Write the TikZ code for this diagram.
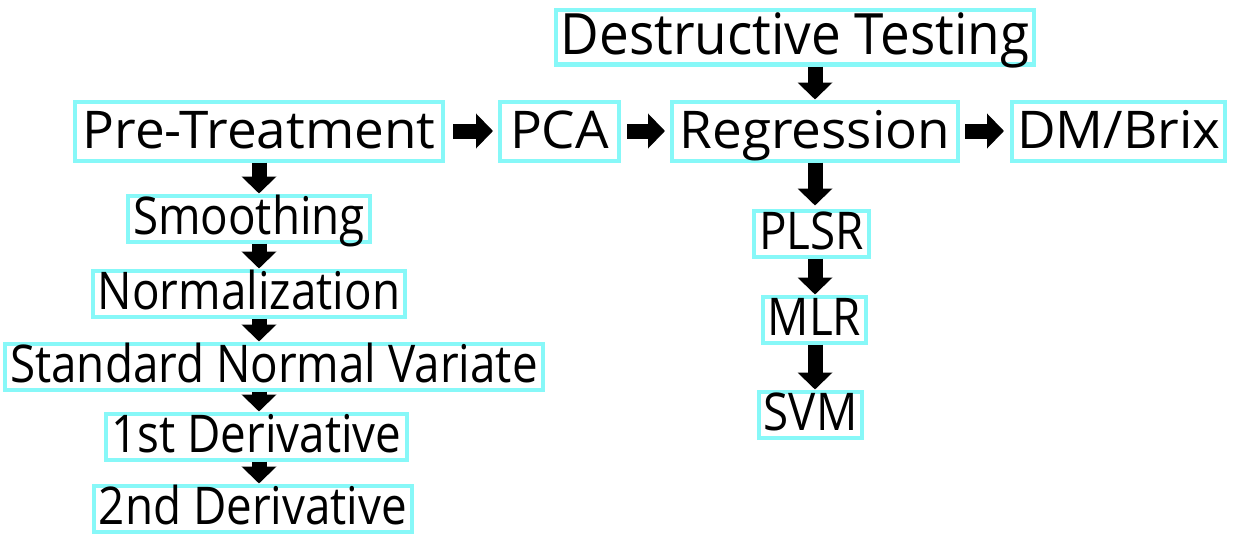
\documentclass[tikz,border=0pt]{standalone}
\usepackage{fontspec}
\setmainfont{Open Sans}[FakeStretch=0.88]
\newfontfamily\topfont{Open Sans}[FakeStretch=1.02]
\newfontfamily\dtfont{Open Sans}[FakeStretch=0.93]
\usepackage{xcolor}
\usepackage{tikz}
\usetikzlibrary{positioning,arrows.meta}

\definecolor{boxcyan}{RGB}{135,248,248}

\begin{document}
\begin{tikzpicture}[
  x=1pt, y=1pt,
  box/.style={draw=boxcyan, line width=4pt, fill=white, inner xsep=5pt, inner ysep=0pt},
  topbox/.style={box, font=\topfont\fontsize{52}{60}\selectfont, text height=47pt, text depth=12pt},
  stepbox/.style={box, font=\fontsize{52}{60}\selectfont, text height=39pt, text depth=7pt},
  blockarrow/.style={line width=15pt, -{Triangle[width=34pt, length=17pt]}}
  ]
  \useasboundingbox (0,0) rectangle (1233,-535);
  % main row
  \node[topbox, minimum width=368pt] (pre) at (259,-131) {Pre-Treatment};
  \node[topbox, minimum width=119pt, right=53pt of pre] (pca) {PCA};
  \node[topbox, minimum width=286pt, right=49pt of pca] (reg) {Regression};
  \node[topbox, minimum width=213pt, right=50pt of reg] (dm) {DM/Brix};
  \node[topbox, font=\dtfont\fontsize{57}{64}\selectfont, text height=44pt, text depth=10pt, minimum width=472pt, above=33pt of reg, xshift=-20pt] (dt) {Destructive Testing};
  % pre-treatment steps
  \node[stepbox, below=31pt of pre, xshift=-10pt] (smooth) {Smoothing};
  \node[stepbox, below=25pt of smooth] (norm) {Normalization};
  \node[stepbox, below=23pt of norm, xshift=25pt] (snv) {Standard Normal Variate};
  \node[stepbox, below=20pt of snv, xshift=-17.5pt] (deriv1) {1st Derivative};
  \node[stepbox, below=22pt of deriv1, xshift=-3.5pt] (deriv2) {2nd Derivative};
  % regression models
  \node[stepbox, below=46pt of reg, xshift=-3.5pt] (plsr) {PLSR};
  \node[stepbox, below=36pt of plsr, xshift=3pt] (mlr) {MLR};
  \node[stepbox, below=45pt of mlr, xshift=-4pt] (svm) {SVM};
  % arrows
  \draw[blockarrow, shorten <=8pt, shorten >=5pt] (pre) -- (pca);
  \draw[blockarrow, shorten <=6pt, shorten >=5pt] (pca) -- (reg);
  \draw[blockarrow, shorten <=5pt, shorten >=6pt] (reg) -- (dm);
  \draw[blockarrow] (dt.south -| reg) -- (reg.north);
  \draw[blockarrow] (pre.south -| pre) -- (smooth.north -| pre);
  \draw[blockarrow] (smooth.south -| pre) -- (norm.north -| pre);
  \draw[blockarrow] (norm.south -| pre) -- (snv.north -| pre);
  \draw[blockarrow] (snv.south -| pre) -- (deriv1.north -| pre);
  \draw[blockarrow] (deriv1.south -| pre) -- (deriv2.north -| pre);
  \draw[blockarrow, shorten >=3pt] (reg.south) -- (plsr.north -| reg);
  \draw[blockarrow] (plsr.south -| reg) -- (mlr.north -| reg);
  \draw[blockarrow] (mlr.south -| reg) -- (svm.north -| reg);
\end{tikzpicture}
\end{document}
